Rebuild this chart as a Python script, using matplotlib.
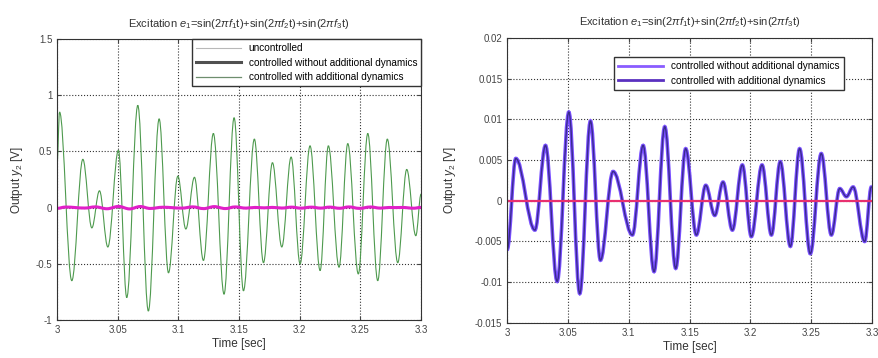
import matplotlib
matplotlib.use('Agg')
import matplotlib.pyplot as plt
from matplotlib.lines import Line2D
from matplotlib.path import Path
from matplotlib.patches import PathPatch

plt.rcParams['font.family'] = ['Liberation Sans', 'DejaVu Sans']
plt.rcParams['mathtext.fontset'] = 'custom'
plt.rcParams['mathtext.rm'] = 'Liberation Sans'
plt.rcParams['mathtext.it'] = 'Liberation Sans:italic'

# Неуправляемый выход (экстремумы)
t_unc = [3.0, 3.002, 3.0121, 3.0212, 3.0286, 3.0349, 3.0418, 3.0505, 3.0574, 3.0665,
         3.0752, 3.0841, 3.0918, 3.0995, 3.1061, 3.1132, 3.1206, 3.1288, 3.1376, 3.1459,
         3.1536, 3.1626, 3.1701, 3.1775, 3.1852, 3.1929, 3.2003, 3.2085, 3.2168, 3.2236,
         3.2324, 3.2396, 3.2483, 3.2561, 3.2643, 3.2722, 3.2808, 3.2882, 3.2957, 3.3]
y_unc = [0.40, 0.85, -0.65, 0.43, -0.18, 0.15, -0.35, 0.51, -0.80, 0.91,
         -0.92, 0.79, -0.58, 0.28, -0.19, 0.27, -0.47, 0.66, -0.77, 0.80,
         -0.74, 0.61, -0.49, 0.40, -0.35, 0.45, -0.50, 0.55, -0.56, 0.55,
         -0.53, 0.57, -0.59, 0.66, -0.65, 0.61, -0.49, 0.34, -0.25, 0.12]

# Управляемый выход
t_ctrl = [3.0, 3.0071, 3.0228, 3.0315, 3.0411, 3.0507, 3.0597, 3.0685, 3.0767, 3.0871,
          3.103, 3.1118, 3.1208, 3.1296, 3.1386, 3.1468, 3.1556, 3.1633, 3.1707, 3.1775,
          3.1852, 3.1934, 3.2008, 3.2096, 3.2173, 3.2246, 3.2329, 3.2405, 3.2493, 3.2583,
          3.2666, 3.2735, 3.279, 3.2845, 3.294, 3.2995]
y_ctrl = [-0.0060, 0.0052, -0.0036, 0.0068, -0.0099, 0.0109, -0.0114, 0.0098, -0.0073, 0.0036,
          -0.0042, 0.0068, -0.0087, 0.0091, -0.0083, 0.0064, -0.0042, 0.0019, -0.0018, 0.0023,
          -0.0036, 0.0044, -0.0044, 0.0044, -0.0042, 0.0048, -0.0056, 0.0064, -0.0065, 0.0058,
          -0.0042, 0.0015, 0.0005, 0.0017, -0.0050, 0.0017]

x_ticks = [3.0, 3.05, 3.1, 3.15, 3.2, 3.25, 3.3]
x_ticklabels = ['3', '3.05', '3.1', '3.15', '3.2', '3.25', '3.3']
y_ticks_left = [-1, -0.5, 0, 0.5, 1, 1.5]
y_ticklabels_left = ['-1', '-0.5', '0', '0.5', '1', '1.5']
y_ticks_right = [-0.015, -0.01, -0.005, 0, 0.005, 0.01, 0.015, 0.02]
y_ticklabels_right = ['-0.015', '-0.01', '-0.005', '0', '0.005', '0.01', '0.015', '0.02']

title = 'Excitation $e_1$=sin(2$\\pi f_1$t)+sin(2$\\pi f_2$t)+sin(2$\\pi f_3$t)'

fig = plt.figure(figsize=(8.79, 3.58), dpi=100)
ax1 = fig.add_axes([0.065, 0.106, 0.414, 0.785])
ax2 = fig.add_axes([0.577, 0.098, 0.415, 0.796])


def smooth_line(ax, t, y, **kw):
    # кривая Безье через экстремумы с горизонтальными касательными (как синусоида)
    verts = [(t[0], y[0])]
    codes = [Path.MOVETO]
    for i in range(len(t) - 1):
        d = (t[i + 1] - t[i]) * 0.364
        verts += [(t[i] + d, y[i]), (t[i + 1] - d, y[i + 1]), (t[i + 1], y[i + 1])]
        codes += [Path.CURVE4] * 3
    patch = PathPatch(Path(verts, codes), facecolor='none', capstyle='round', **kw)
    ax.add_patch(patch)


def style(ax, yt, ytl, lp):
    ax.set_xlim(3.0, 3.3)
    ax.set_xticks(x_ticks)
    ax.set_xticklabels(x_ticklabels)
    ax.set_yticks(yt)
    ax.set_yticklabels(ytl)
    ax.set_ylim(yt[0], yt[-1])
    ax.grid(True, linestyle=':', color='#333333', linewidth=0.8)
    ax.set_axisbelow(True)
    ax.tick_params(direction='in', labelsize=7, length=3, top=True, right=True,
                   colors='#444444')
    for s in ax.spines.values():
        s.set_color('#333333')
        s.set_linewidth(0.8)
    ax.set_xlabel('Time [sec]', fontsize=8.5, color='#333333', labelpad=2)
    ax.set_ylabel('Output $y_2$ [V]', fontsize=8.5, color='#333333', labelpad=lp)
    ax.set_title(title, fontsize=8, color='#333333', pad=9)


# Левый график
smooth_line(ax1, t_unc, y_unc, edgecolor='#4e9a4e', linewidth=0.8)
smooth_line(ax1, t_ctrl, y_ctrl, edgecolor='#e020c8', linewidth=2.2)
style(ax1, y_ticks_left, y_ticklabels_left, 8)
handles1 = [Line2D([], [], color='#b8b8b8', linewidth=0.8),
            Line2D([], [], color='#505050', linewidth=2.2),
            Line2D([], [], color='#6e8e6e', linewidth=0.9)]
leg1 = ax1.legend(handles1, ['uncontrolled', 'controlled without additional dynamics',
                             'controlled with additional dynamics'],
                  loc='upper right', fontsize=7.2, fancybox=False, borderaxespad=0,
                  handlelength=4.5, labelspacing=0.45, framealpha=1)
leg1.get_frame().set_edgecolor('#333333')

# Правый график
ax2.axhline(0, color='#e83070', linewidth=1.6)
smooth_line(ax2, t_ctrl, y_ctrl, edgecolor='#7a50ff', linewidth=2.6)
smooth_line(ax2, t_ctrl, y_ctrl, edgecolor='#3a2a90', linewidth=1.0)
style(ax2, y_ticks_right, y_ticklabels_right, 12)
handles2 = [Line2D([], [], color='#8a5cff', linewidth=2.0),
            Line2D([], [], color='#5a30c0', linewidth=2.0)]
leg2 = ax2.legend(handles2, ['controlled without additional dynamics',
                             'controlled with additional dynamics'],
                  loc='upper right', bbox_to_anchor=(0.923, 0.933), fontsize=7.2,
                  fancybox=False, borderaxespad=0, handlelength=4.5,
                  labelspacing=0.45, framealpha=1)
leg2.get_frame().set_edgecolor('#333333')

fig.savefig('out.png', dpi=100)
